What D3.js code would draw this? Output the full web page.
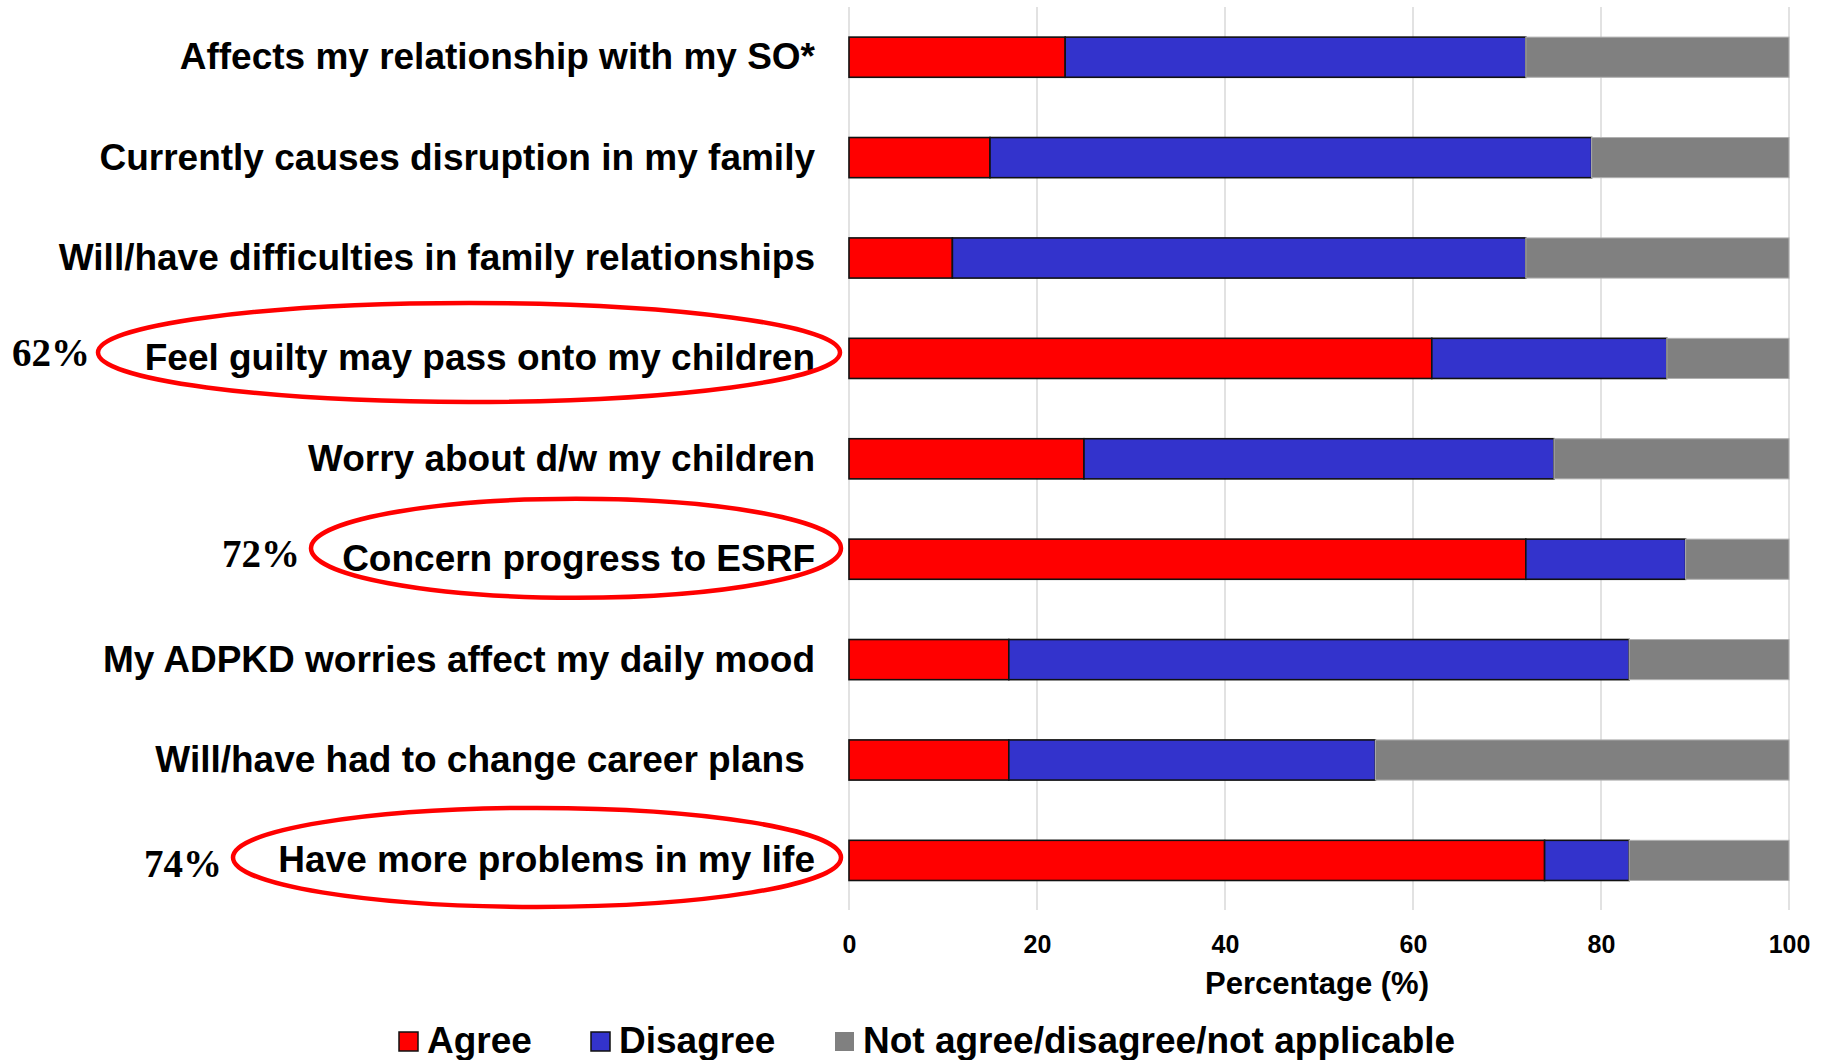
<!DOCTYPE html>
<html>
<head>
<meta charset="utf-8">
<script src="https://cdn.jsdelivr.net/npm/d3@7"></script>
<style>
  html, body { margin: 0; padding: 0; background: #fff; }
  svg { display: block; }
  text { font-family: "Liberation Sans", Arial, sans-serif; font-weight: bold; fill: #000; }
</style>
</head>
<body>
<svg id="chart" width="1826" height="1060"></svg>
<script>
// ---- data ----
const categories = [
  "Affects my relationship with my SO*",
  "Currently causes disruption in my family",
  "Will/have difficulties in family relationships",
  "Feel guilty may pass onto my children",
  "Worry about d/w my children",
  "Concern progress to ESRF",
  "My ADPKD worries affect my daily mood",
  "Will/have had to change career plans ",
  "Have more problems in my life"
];
const agree    = [23, 15, 11, 62, 25, 72, 17, 17, 74];
const disagree = [49, 64, 61, 25, 50, 17, 66, 39,  9];
const neutral  = [28, 21, 28, 13, 25, 11, 17, 44, 17];
const seriesNames = ["Agree", "Disagree", "Not agree/disagree/not applicable"];
const xTicks = [0, 20, 40, 60, 80, 100];
const xTitle = "Percentage (%)";
const highlighted = [3, 5, 8];            // category indices circled
const highlightText = ["62%", "72%", "74%"];

// ---- layout ----
const colors = ["#ff0000", "#3333cc", "#808080"];
const svg = d3.select("#chart");
const x = d3.scaleLinear().domain([0, 100]).range([849, 1789]);
const y = d3.scaleBand().domain(categories).range([7, 910.6]).paddingInner(0.6).paddingOuter(0.3);

// gridlines
svg.append("g").selectAll("line").data(xTicks).join("line")
  .attr("x1", d => x(d)).attr("x2", d => x(d))
  .attr("y1", 7).attr("y2", 910)
  .attr("stroke", "#d9d9d9").attr("stroke-width", 1.5);

// stacked bars
const rows = categories.map((c, i) => ({cat: c, vals: [agree[i], disagree[i], neutral[i]]}));
const stackData = d3.stack().keys([0, 1, 2])(rows.map(r => r.vals));
stackData.forEach((layer, k) => {
  svg.append("g").selectAll("rect").data(layer).join("rect")
    .attr("x", d => x(d[0]))
    .attr("width", d => x(d[1]) - x(d[0]))
    .attr("y", (d, i) => y(categories[i]))
    .attr("height", y.bandwidth())
    .attr("fill", colors[k])
    .attr("stroke", k < 2 ? "#111" : "#b0b0b0")
    .attr("stroke-width", k < 2 ? 1.6 : 1);
});

// x axis labels
const xAxis = d3.axisBottom(x).tickValues(xTicks).tickSize(0).tickPadding(0).tickFormat(d3.format("d"));
const gx = svg.append("g").attr("transform", "translate(0,953)").call(xAxis);
gx.select(".domain").remove();
gx.selectAll("text").attr("dy", 0).attr("y", 0)
  .style("font-size", "25px").style("font-weight", "bold")
  .style("font-family", "'Liberation Sans', Arial, sans-serif").attr("fill", "#000");

svg.append("text").attr("x", (x(0) + x(100)) / 2 - 2).attr("y", 994)
  .attr("text-anchor", "middle").style("font-size", "31px").text(xTitle);

// category labels
svg.append("g").selectAll("text").data(categories).join("text")
  .attr("x", 815)
  .attr("y", d => y(d) + y.bandwidth() / 2 + 12)
  .attr("text-anchor", "end")
  .style("font-size", "37px")
  .style("white-space", "pre")
  .attr("xml:space", "preserve")
  .text(d => d);

// highlight ellipses and percentages
const ellipseSpec = [
  {cx: 469, rx: 371, dy: -6, end: 90},
  {cx: 576, rx: 265, dy: -11, end: 300},
  {cx: 537, rx: 304, dy: -3, end: 222}
];
highlighted.forEach((idx, j) => {
  const cy = y(categories[idx]) + y.bandwidth() / 2;
  svg.append("ellipse")
    .attr("cx", ellipseSpec[j].cx).attr("cy", cy + ellipseSpec[j].dy)
    .attr("rx", ellipseSpec[j].rx).attr("ry", 49.5)
    .attr("fill", "none").attr("stroke", "#ff0000").attr("stroke-width", 4.5);
  svg.append("text")
    .attr("x", ellipseSpec[j].end).attr("y", cy + (j === 2 ? 17 : 8))
    .attr("text-anchor", "end")
    .style("font-family", "'Liberation Serif', Georgia, serif")
    .style("font-size", "39px")
    .style("font-weight", "bold")
    .text(highlightText[j]);
});

// legend
const legendX = [399, 591, 835];
const lg = svg.append("g");
seriesNames.forEach((name, i) => {
  lg.append("rect").attr("x", legendX[i]).attr("y", 1032).attr("width", 19).attr("height", 19)
    .attr("fill", colors[i]).attr("stroke", i < 2 ? "#111" : "none").attr("stroke-width", 1.5);
  lg.append("text").attr("x", legendX[i] + 28).attr("y", 1053)
    .style("font-size", "37px").text(name);
});
</script>
</body>
</html>
